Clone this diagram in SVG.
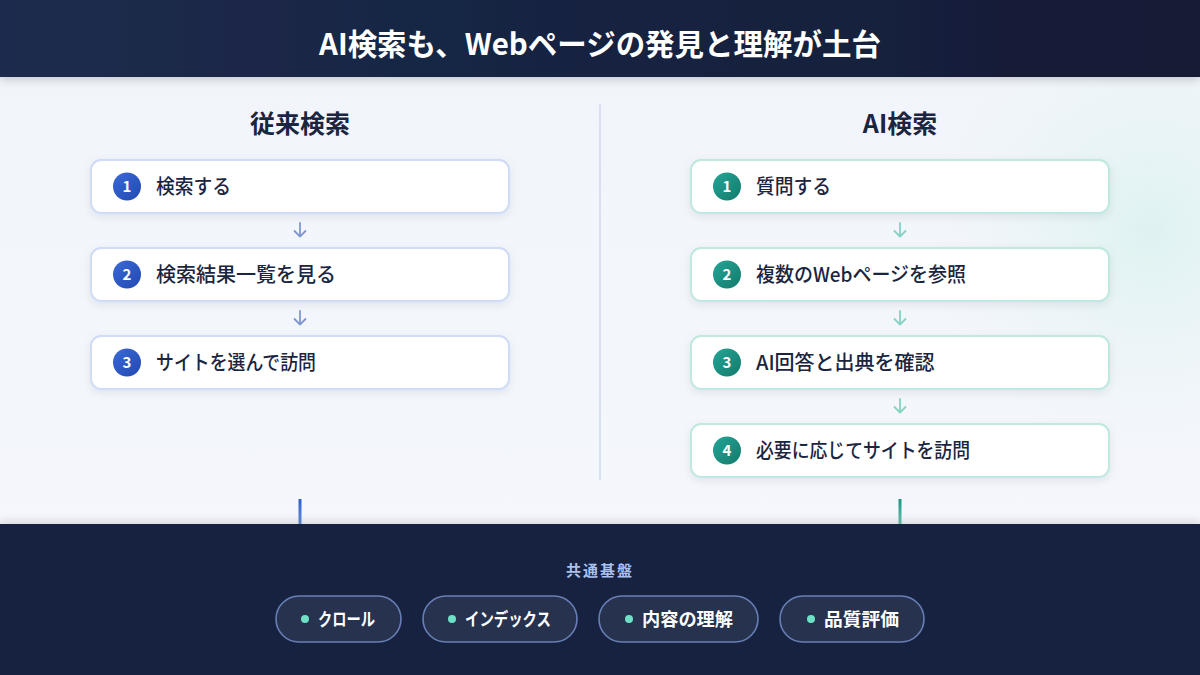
<svg xmlns="http://www.w3.org/2000/svg" width="1200" height="675" viewBox="0 0 1200 675">
<defs>
<linearGradient id="hdr" x1="0" y1="0" x2="1" y2="0"><stop offset="0" stop-color="#1c2b4d"/><stop offset="1" stop-color="#131c35"/></linearGradient>
<linearGradient id="body" x1="0" y1="0" x2="0" y2="1"><stop offset="0" stop-color="#f1f5fb"/><stop offset="1" stop-color="#f5f7fc"/></linearGradient>
<radialGradient id="glow" cx="1150" cy="230" r="220" gradientUnits="userSpaceOnUse"><stop offset="0" stop-color="#d9f1ee" stop-opacity="0.8"/><stop offset="1" stop-color="#e6f4f3" stop-opacity="0"/></radialGradient>
<linearGradient id="blueC" x1="0" y1="0" x2="1" y2="1"><stop offset="0" stop-color="#3a6ad8"/><stop offset="1" stop-color="#2248b0"/></linearGradient>
<linearGradient id="tealC" x1="0" y1="0" x2="1" y2="1"><stop offset="0" stop-color="#25a596"/><stop offset="1" stop-color="#137a6c"/></linearGradient>
<linearGradient id="blueL" x1="0" y1="0" x2="0" y2="1"><stop offset="0" stop-color="#2d5fd0"/><stop offset="1" stop-color="#6d8fd8"/></linearGradient>
<linearGradient id="tealL" x1="0" y1="0" x2="0" y2="1"><stop offset="0" stop-color="#1a9484"/><stop offset="1" stop-color="#6fc3b3"/></linearGradient>
<filter id="sh" x="-10%" y="-30%" width="120%" height="170%"><feDropShadow dx="0" dy="3" stdDeviation="4" flood-color="#1b2a4a" flood-opacity="0.08"/></filter>
<filter id="hsh" x="-5%" y="-20%" width="110%" height="160%"><feDropShadow dx="0" dy="3" stdDeviation="4" flood-color="#000" flood-opacity="0.18"/></filter>
<filter id="bsh" x="-5%" y="-30%" width="110%" height="160%"><feDropShadow dx="0" dy="-3" stdDeviation="4" flood-color="#000" flood-opacity="0.12"/></filter>
</defs>
<style>
text{font-family:"Noto Sans CJK JP","Noto Sans",sans-serif}
.title{font-size:30px;font-weight:700;fill:#ffffff}
.col{font-size:25px;font-weight:700;fill:#1b2540}
.box-b{fill:#ffffff;stroke:#cfdcf5;stroke-width:2}
.box-t{fill:#ffffff;stroke:#bfe8de;stroke-width:2}
.lbl{font-size:20px;font-weight:500;fill:#1b2540}
.num{font-size:15px;font-weight:700;fill:#ffffff}
.arr-b{fill:none;stroke:#8197cf;stroke-width:1.8;stroke-linecap:round;stroke-linejoin:round}
.arr-t{fill:none;stroke:#86d3c3;stroke-width:1.8;stroke-linecap:round;stroke-linejoin:round}
.pill{fill:#27324f;stroke:#687fb6;stroke-width:1.6}
.ptxt{font-size:18px;font-weight:700;fill:#ffffff}
.dot{fill:#6ee0c6}
</style>
<rect x="0" y="0" width="1200" height="675" fill="url(#body)"/>
<rect x="800" y="0" width="400" height="520" fill="url(#glow)"/>
<line x1="600" y1="104" x2="600" y2="480" stroke="#d9e1f1" stroke-width="2"/>
<g id="header">
<rect x="0" y="0" width="1200" height="77" fill="url(#hdr)" filter="url(#hsh)"/>
<text class="title" x="319" y="55" textLength="562" lengthAdjust="spacingAndGlyphs">AI検索も、Webページの発見と理解が土台</text>
</g>
<g id="col-left-title"><text class="col" x="300" y="133" text-anchor="middle">従来検索</text></g>
<g id="col-right-title"><text class="col" x="900" y="133" text-anchor="middle">AI検索</text></g>
<g id="left-1"><rect class="box-b" x="91" y="160" width="418" height="53" rx="10" filter="url(#sh)"/><circle cx="127" cy="186.5" r="14" fill="url(#blueC)"/><text class="num" x="127" y="192" text-anchor="middle">1</text><text class="lbl" x="156" y="194" textLength="75" lengthAdjust="spacingAndGlyphs">検索する</text></g>
<g id="left-2"><rect class="box-b" x="91" y="248" width="418" height="53" rx="10" filter="url(#sh)"/><circle cx="127" cy="274.5" r="14" fill="url(#blueC)"/><text class="num" x="127" y="280" text-anchor="middle">2</text><text class="lbl" x="156" y="282">検索結果一覧を見る</text></g>
<g id="left-3"><rect class="box-b" x="91" y="336" width="418" height="53" rx="10" filter="url(#sh)"/><circle cx="127" cy="362.5" r="14" fill="url(#blueC)"/><text class="num" x="127" y="368" text-anchor="middle">3</text><text class="lbl" x="156" y="370" textLength="160" lengthAdjust="spacingAndGlyphs">サイトを選んで訪問</text></g>
<g id="right-1"><rect class="box-t" x="691" y="160" width="418" height="53" rx="10" filter="url(#sh)"/><circle cx="727" cy="186.5" r="14" fill="url(#tealC)"/><text class="num" x="727" y="192" text-anchor="middle">1</text><text class="lbl" x="756" y="194" textLength="75" lengthAdjust="spacingAndGlyphs">質問する</text></g>
<g id="right-2"><rect class="box-t" x="691" y="248" width="418" height="53" rx="10" filter="url(#sh)"/><circle cx="727" cy="274.5" r="14" fill="url(#tealC)"/><text class="num" x="727" y="280" text-anchor="middle">2</text><text class="lbl" x="756" y="282" textLength="210" lengthAdjust="spacingAndGlyphs">複数のWebページを参照</text></g>
<g id="right-3"><rect class="box-t" x="691" y="336" width="418" height="53" rx="10" filter="url(#sh)"/><circle cx="727" cy="362.5" r="14" fill="url(#tealC)"/><text class="num" x="727" y="368" text-anchor="middle">3</text><text class="lbl" x="756" y="370">AI回答と出典を確認</text></g>
<g id="right-4"><rect class="box-t" x="691" y="424" width="418" height="53" rx="10" filter="url(#sh)"/><circle cx="727" cy="450.5" r="14" fill="url(#tealC)"/><text class="num" x="727" y="456" text-anchor="middle">4</text><text class="lbl" x="756" y="458" textLength="214" lengthAdjust="spacingAndGlyphs">必要に応じてサイトを訪問</text></g>
<g id="connectors">
<path class="arr-b" d="M300 223 V236 M294.5 231 L300 236.5 L305.5 231"/>
<path class="arr-b" d="M300 311 V324 M294.5 319 L300 324.5 L305.5 319"/>
<path class="arr-t" d="M900 223 V236 M894.5 231 L900 236.5 L905.5 231"/>
<path class="arr-t" d="M900 311 V324 M894.5 319 L900 324.5 L905.5 319"/>
<path class="arr-t" d="M900 399 V412 M894.5 407 L900 412.5 L905.5 407"/>
<rect x="298.5" y="499" width="3" height="26" fill="url(#blueL)"/>
<rect x="898.5" y="499" width="3" height="26" fill="url(#tealL)"/>
</g>
<g id="footer">
<rect x="0" y="524" width="1200" height="151" fill="#16223f" filter="url(#bsh)"/>
<text x="600" y="576" text-anchor="middle" font-size="15" font-weight="700" fill="#a9c0ef" letter-spacing="2">共通基盤</text>
</g>
<g id="pill-1"><rect class="pill" x="276" y="596" width="125" height="46" rx="23"/><circle class="dot" cx="305" cy="619" r="4"/><text class="ptxt" x="318" y="626" textLength="57" lengthAdjust="spacingAndGlyphs">クロール</text></g>
<g id="pill-2"><rect class="pill" x="423" y="596" width="154" height="46" rx="23"/><circle class="dot" cx="452" cy="619" r="4"/><text class="ptxt" x="465" y="626" textLength="86" lengthAdjust="spacingAndGlyphs">インデックス</text></g>
<g id="pill-3"><rect class="pill" x="599" y="596" width="159" height="46" rx="23"/><circle class="dot" cx="629" cy="619" r="4"/><text class="ptxt" x="642" y="626" textLength="91" lengthAdjust="spacingAndGlyphs">内容の理解</text></g>
<g id="pill-4"><rect class="pill" x="780" y="596" width="144" height="46" rx="23"/><circle class="dot" cx="811" cy="619" r="4"/><text class="ptxt" x="824" y="626" textLength="75" lengthAdjust="spacingAndGlyphs">品質評価</text></g>
</svg>
